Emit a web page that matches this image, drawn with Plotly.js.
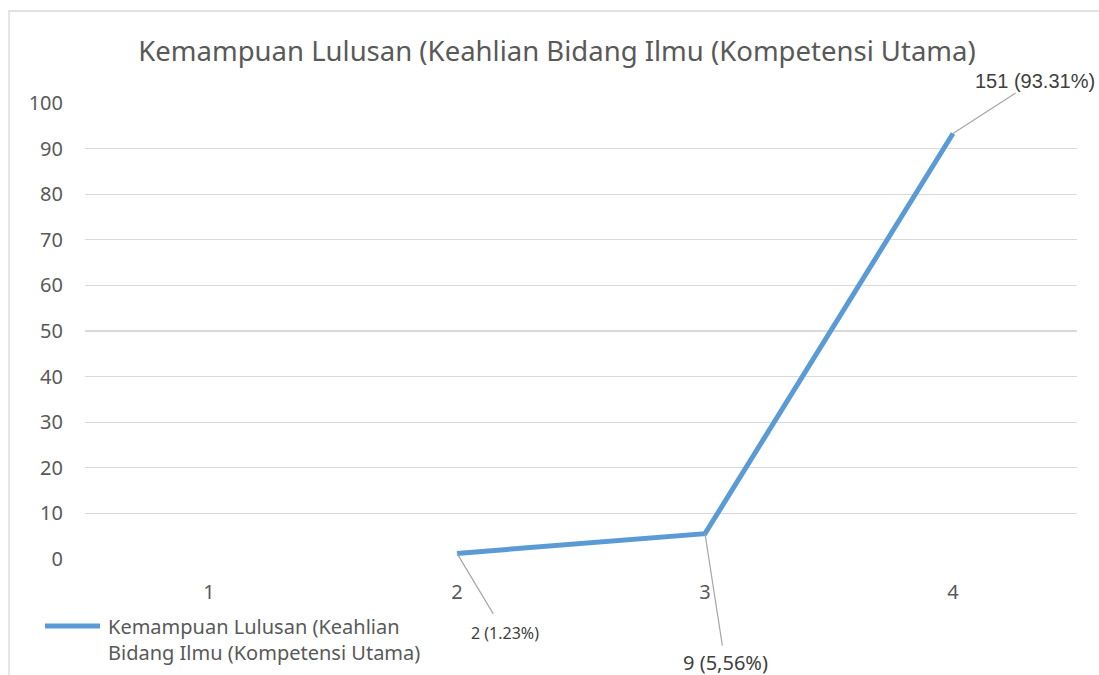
<!DOCTYPE html>
<html>
<head>
<meta charset="utf-8">
<script src="https://cdn.plot.ly/plotly-3.0.1.min.js"></script>
<style>
html,body{margin:0;padding:0;background:#fff;}
#chart{width:1099px;height:675px;}
</style>
</head>
<body>
<div id="chart"></div>
<script>
const categories = ["1", "2", "3", "4"];
const values = [null, 1.23, 5.56, 93.31];
const pointLabels = ["", "2 (1.23%)", "9 (5,56%)", "151 (93.31%)"];
const yTicks = [0, 10, 20, 30, 40, 50, 60, 70, 80, 90, 100];
const seriesNameLines = ["Kemampuan Lulusan (Keahlian", "Bidang Ilmu (Kompetensi Utama)"];
const chartTitle = "Kemampuan Lulusan (Keahlian Bidang Ilmu (Kompetensi Utama)";

const labelStyles = [null,
  {ax: 48, ay: 80, font: "Noto Sans", size: 16, pad: 8},
  {ax: 20, ay: 129, font: "Noto Sans", size: 20, pad: 3},
  {ax: 82, ay: -53, font: "Liberation Sans", size: 20, pad: 1}];

const annotations = [];
categories.forEach((c, i) => {
  if (values[i] === null || !pointLabels[i]) return;
  const o = labelStyles[i];
  annotations.push({
    x: i, y: values[i], xref: "x", yref: "y",
    text: pointLabels[i], showarrow: true, arrowhead: 0,
    arrowwidth: 1.2, arrowcolor: "#a6a6a6",
    ax: o.ax, ay: o.ay, standoff: 0, borderpad: o.pad,
    font: {family: o.font, size: o.size, color: "#404040"}
  });
});

// legend (drawn manually to match the original's long line sample)
const legX0 = (45 - 85) / 992, legX1 = (100 - 85) / 992;
const legY = (559 - 626) / 456;
annotations.push({
  xref: "paper", yref: "paper", x: (106 - 85) / 992, y: (559 - 611) / 456,
  xanchor: "left", yanchor: "top", align: "left", showarrow: false,
  text: seriesNameLines.join("<br>"),
  font: {family: "Noto Sans", size: 20, color: "#595959"}
});

const trace = {
  x: categories, y: values, type: "scatter", mode: "lines",
  name: seriesNameLines.join(" "),
  line: {color: "#5B9BD5", width: 5},
  connectgaps: false,
  hoverinfo: "skip"
};

const layout = {
  width: 1099, height: 675,
  paper_bgcolor: "#ffffff", plot_bgcolor: "#ffffff",
  margin: {l: 85, r: 22, t: 103, b: 116},
  font: {family: "Noto Sans", color: "#595959"},
  title: {
    text: chartTitle,
    font: {family: "Noto Sans", size: 27.5, color: "#595959"},
    x: 557 / 1099, xanchor: "center", xref: "container",
    y: 52, yref: "container", yanchor: "middle"
  },
  xaxis: {
    type: "category", categoryorder: "array", categoryarray: categories,
    range: [-0.5, 3.5],
    showgrid: false, zeroline: false, showline: false, ticks: "",
    tickfont: {family: "Noto Sans", size: 20, color: "#595959"},
    ticklabelstandoff: 19, fixedrange: true
  },
  yaxis: {
    range: [0, 100], tickvals: yTicks, ticktext: yTicks.map(String),
    showgrid: true, gridcolor: "#d9d9d9", gridwidth: 1.3,
    zeroline: false, showline: false, ticks: "",
    tickfont: {family: "Noto Sans", size: 20, color: "#595959"},
    ticklabelstandoff: 21, fixedrange: true
  },
  showlegend: false,
  annotations: annotations,
  shapes: [{
    type: "rect", xref: "paper", yref: "paper",
    x0: -76 / 992, x1: 1.2, y0: -1, y1: (559 - 11) / 456,
    line: {color: "#d9d9d9", width: 1.3}, fillcolor: "rgba(0,0,0,0)", layer: "below"
  }, {
    type: "line", xref: "paper", yref: "paper",
    x0: legX0, x1: legX1, y0: legY, y1: legY,
    line: {color: "#5B9BD5", width: 5, cap: "round"}
  }]
};

Plotly.newPlot("chart", [trace], layout, {displayModeBar: false, staticPlot: true});
</script>
</body>
</html>
